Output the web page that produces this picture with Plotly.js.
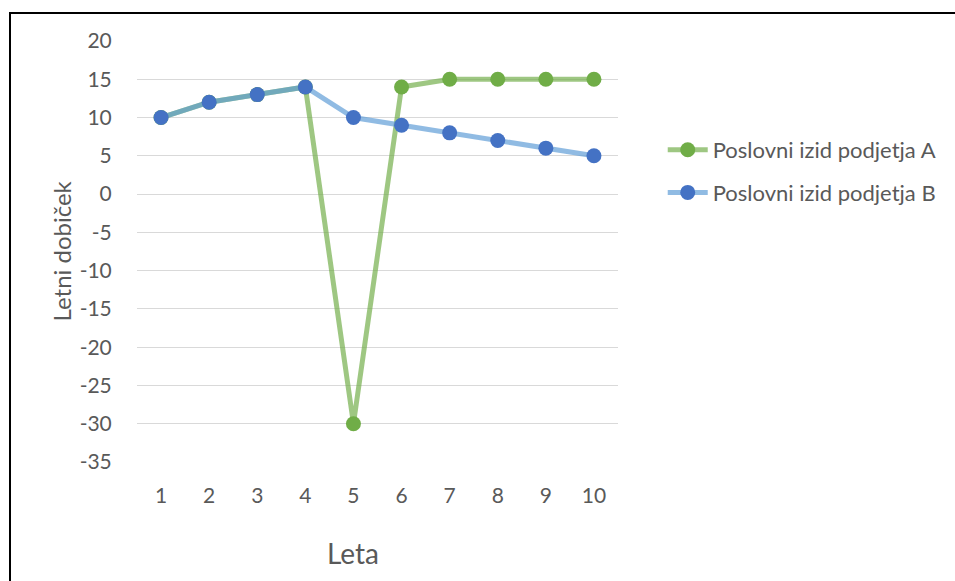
<!DOCTYPE html>
<html>
<head>
<meta charset="utf-8">
<script src="https://cdn.plot.ly/plotly-3.0.1.min.js"></script>
<style>
html,body{margin:0;padding:0;background:#fff;overflow:hidden;}
#frame{position:absolute;left:9px;top:12px;width:1000px;height:700px;border-left:2px solid #000;border-top:2px solid #000;pointer-events:none;z-index:5;}
#chart{position:absolute;left:0;top:0;width:955px;height:581px;}
</style>
</head>
<body>
<div id="chart"></div>
<div id="frame"></div>
<script>
const years = [1,2,3,4,5,6,7,8,9,10];
const seriesA = [10,12,13,14,-30,14,15,15,15,15];
const seriesB = [10,12,13,14,10,9,8,7,6,5];
const nameA = 'Poslovni izid podjetja A';
const nameB = 'Poslovni izid podjetja B';
const yTicks = [20,15,10,5,0,-5,-10,-15,-20,-25,-30,-35];
const xTitle = 'Leta';
const yTitle = 'Letni dobiček';

const FONT = 'Lato, "Open Sans", sans-serif';
const traces = [
  {x: years, y: seriesA, name: nameA, legendgroup: 'a', type: 'scatter', mode: 'lines+markers',
   line: {color: 'rgba(112,173,71,0.68)', width: 5},
   marker: {color: '#70AD47', size: 15}},
  {x: years, y: seriesB, name: nameB, legendgroup: 'b', type: 'scatter', mode: 'lines+markers',
   line: {color: 'rgba(91,155,213,0.68)', width: 5},
   marker: {color: '#4472C4', size: 15}}
];
const layout = {
  width: 955, height: 581,
  margin: {l: 137, r: 337, t: 41, b: 119},
  paper_bgcolor: '#fff', plot_bgcolor: '#fff',
  font: {family: FONT, color: '#595959', size: 21},
  showlegend: true,
  legend: {x: 1.093, xanchor: 'left', y: 0.69, yanchor: 'middle',
           font: {size: 22, color: '#595959'}, tracegroupgap: 11, itemwidth: 40},
  xaxis: {range: [0.5, 10.5], tickvals: years, ticktext: years.map(String),
          showgrid: false, zeroline: false, showline: false,
          ticks: 'outside', ticklen: 15, tickcolor: 'rgba(0,0,0,0)',
          tickfont: {size: 21, color: '#595959'}, fixedrange: true},
  yaxis: {range: [-35, 20], tickvals: yTicks, ticktext: yTicks.map(String),
          showgrid: true, gridcolor: '#D9D9D9', gridwidth: 1,
          zeroline: false, showline: false,
          ticks: 'outside', ticklen: 20, tickcolor: 'rgba(0,0,0,0)',
          tickfont: {size: 21, color: '#595959'},
          fixedrange: true},
  annotations: [
    {text: xTitle, xref: 'paper', yref: 'paper', x: (353-137)/481, y: -(553-462)/421,
     xanchor: 'center', yanchor: 'middle', showarrow: false,
     font: {size: 28, color: '#595959', family: FONT}},
    {text: yTitle, xref: 'paper', yref: 'paper', x: (61-137)/481, y: 0.5, textangle: -90,
     xanchor: 'center', yanchor: 'middle', showarrow: false,
     font: {size: 24, color: '#595959', family: FONT}}
  ]
};
Plotly.newPlot('chart', traces, layout, {staticPlot: true});
</script>
</body>
</html>
